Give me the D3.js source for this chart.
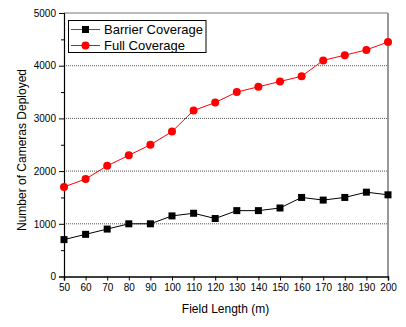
<!DOCTYPE html>
<html><head><meta charset="utf-8">
<script src="https://cdn.jsdelivr.net/npm/d3@7"></script>
<style>body{margin:0;background:#fff}svg{display:block}text{font-family:"Liberation Sans",Arial,sans-serif}</style>
</head><body><svg id="c" width="406" height="327"></svg>
<script>
const fieldLength = [50,60,70,80,90,100,110,120,130,140,150,160,170,180,190,200];
const barrierCoverage = [700,800,900,1000,1000,1150,1200,1100,1250,1250,1300,1500,1450,1500,1600,1550];
const fullCoverage = [1700,1850,2100,2300,2500,2750,3150,3300,3500,3600,3700,3800,4100,4200,4300,4450];
const yTicks = [0,1000,2000,3000,4000,5000];
const yMinorTicks = [500,1500,2500,3500,4500];
const seriesNames = ["Barrier Coverage","Full Coverage"];

const svg = d3.select("#c");
const L=64, R=388, T=13, B=276.5;
const x = d3.scaleLinear().domain([50,200]).range([L,R]);
const y = d3.scaleLinear().domain([0,5000]).range([B,T]);

// gridlines
svg.append("g").selectAll("line").data([1000,2000,3000,4000]).join("line")
  .attr("x1",L).attr("x2",R).attr("y1",d=>y(d)).attr("y2",d=>y(d))
  .attr("stroke","#555").attr("stroke-width",1).attr("stroke-dasharray","1,1");

// frame top/right
svg.append("line").attr("x1",L).attr("x2",R).attr("y1",T).attr("y2",T).attr("stroke","#777").attr("stroke-width",1);
svg.append("line").attr("x1",R).attr("x2",R).attr("y1",T).attr("y2",B).attr("stroke","#777").attr("stroke-width",1.5);

// axes
svg.append("g").attr("transform",`translate(${L},0)`)
  .call(d3.axisLeft(y).tickValues(yTicks).tickSize(5).tickPadding(3).tickFormat(d3.format("d")));
svg.append("g").attr("transform",`translate(${L},0)`)
  .call(d3.axisLeft(y).tickValues(yMinorTicks).tickSize(3).tickFormat(""))
  .call(g=>g.select(".domain").remove());
const xAxis = svg.append("g").attr("transform",`translate(0,${B})`)
  .call(d3.axisBottom(x).tickValues(fieldLength).tickSize(4).tickPadding(3).tickFormat(d3.format("d")));
svg.selectAll(".tick text").attr("font-size",10).attr("font-family","Liberation Sans, Arial, sans-serif").attr("fill","#000");
svg.selectAll(".domain").attr("stroke","#000").attr("stroke-width",1.2);
svg.selectAll(".tick line").attr("stroke","#000");
xAxis.select(".domain").attr("stroke-width",1.5);

// axis titles
svg.append("text").attr("x",225.5).attr("y",313).attr("text-anchor","middle").attr("font-size",12).text("Field Length (m)");
svg.append("text").attr("transform",`translate(26,150) rotate(-90)`).attr("text-anchor","middle").attr("font-size",12).text("Number of Cameras Deployed");

const line = d3.line().x((d,i)=>x(fieldLength[i])).y(d=>y(d));
// series
svg.append("path").datum(barrierCoverage).attr("d",line).attr("fill","none").attr("stroke","#000").attr("stroke-width",1);
svg.append("g").selectAll("rect").data(barrierCoverage).join("rect")
  .attr("x",(d,i)=>x(fieldLength[i])-3.5).attr("y",d=>y(d)-3.5).attr("width",7).attr("height",7).attr("fill","#000");
svg.append("path").datum(fullCoverage).attr("d",line).attr("fill","none").attr("stroke","#ff0000").attr("stroke-width",1);
svg.append("g").selectAll("circle").data(fullCoverage).join("circle")
  .attr("cx",(d,i)=>x(fieldLength[i])).attr("cy",d=>y(d)).attr("r",4).attr("fill","#ff0000");

// legend
const lg = svg.append("g");
lg.append("rect").attr("x",68.5).attr("y",20.5).attr("width",137.5).attr("height",32).attr("fill","#fff").attr("stroke","#000").attr("stroke-width",1);
const colors=["#000","#ff0000"];
seriesNames.forEach((n,i)=>{
  const yy = 29.5 + i*16;
  lg.append("line").attr("x1",71).attr("x2",100).attr("y1",yy).attr("y2",yy).attr("stroke",i==0?"#555":colors[i]).attr("stroke-width",1);
  if(i==0) lg.append("rect").attr("x",82).attr("y",yy-3.5).attr("width",7).attr("height",7).attr("fill","#000");
  else lg.append("circle").attr("cx",85.5).attr("cy",yy).attr("r",4).attr("fill",colors[i]);
  lg.append("text").attr("x",104).attr("y",yy+4.5).attr("font-size",13).text(n);
});
</script></body></html>
